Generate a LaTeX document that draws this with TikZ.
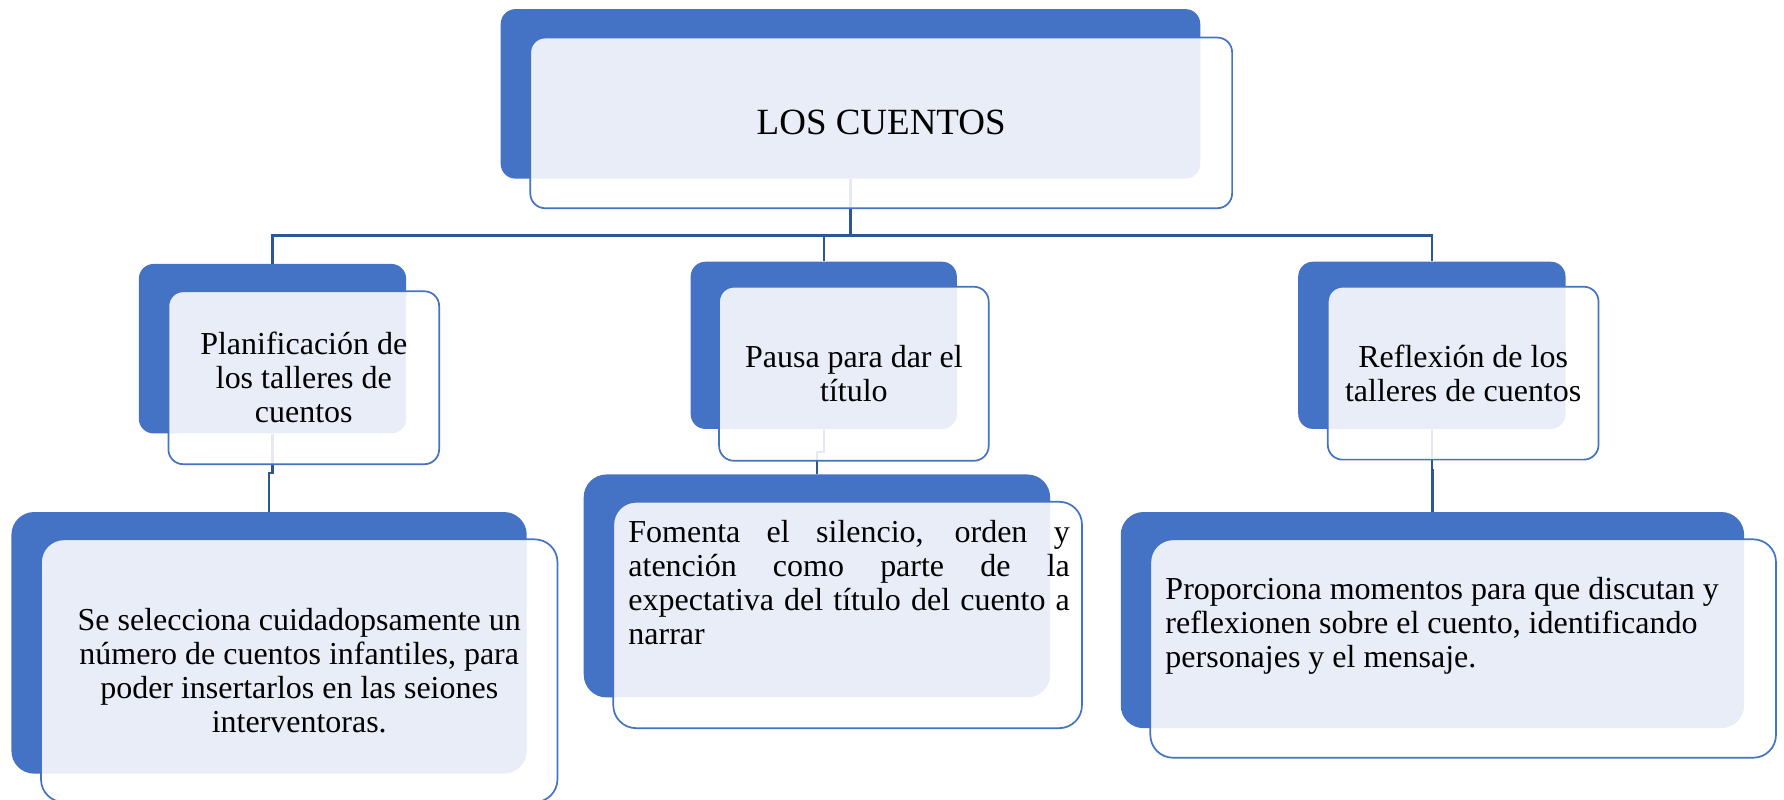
\documentclass[tikz,border=0pt]{standalone}
\usepackage{fontspec}
\setmainfont{Liberation Serif}
\usetikzlibrary{calc,backgrounds}
\definecolor{cuentoblue}{RGB}{68,114,196}
\definecolor{linkblue}{RGB}{47,85,151}

\begin{document}
\begin{tikzpicture}[x=0.02cm,y=-0.02cm,
  back/.style={fill=cuentoblue, rounded corners=0.26cm, inner sep=0pt},
  front/.style={draw=cuentoblue, line width=0.03cm, fill=white, fill opacity=0.88, text opacity=1,
    rounded corners=0.26cm, inner sep=0pt, align=center, font=\fontsize{16}{17}\selectfont},
  big/.style={rounded corners=0.4cm},
  link/.style={draw=linkblue, line width=0.04cm},
  txt/.style={inner sep=0pt, font=\fontsize{16}{17}\selectfont}]
\useasboundingbox (0,0) rectangle (1568,703);

% title
\node[back, minimum width=12.3cm, minimum height=2.98cm] (topback) at (747.5,82.5) {};
\node[front, minimum width=12.34cm, minimum height=3cm, font=\fontsize{18.5}{22}\selectfont] (top) at (774.5,108) {LOS CUENTOS};

% second row
\node[back, minimum width=4.7cm, minimum height=2.98cm] (leftback) at (239.5,306.5) {};
\node[front, minimum width=4.76cm, minimum height=3.04cm] (left) at (267,332) {Planificación de\\ los talleres de\\ cuentos};
\node[back, minimum width=4.68cm, minimum height=2.94cm] (midback) at (724,303.5) {};
\node[front, minimum width=4.74cm, minimum height=3.06cm] (mid) at (750.5,328.5) {Pausa para dar el\\ título};
\node[back, minimum width=4.7cm, minimum height=2.94cm] (rightback) at (1258.5,303.5) {};
\node[front, minimum width=4.76cm, minimum height=3.04cm] (right) at (1286,328) {Reflexión de los\\ talleres de cuentos};

% third row
\node[back, big, minimum width=9.06cm, minimum height=4.6cm] (leftbigback) at (236.5,565) {};
\node[front, big, minimum width=9.08cm, minimum height=4.62cm] (leftbig) at (263,589.5) {Se selecciona cuidadopsamente un\\ número de cuentos infantiles, para\\ poder insertarlos en las seiones\\ interventoras.};
\node[back, big, minimum width=8.2cm, minimum height=3.92cm] (midbigback) at (718,515) {};
\node[front, big, minimum width=8.24cm, minimum height=3.98cm] (midbig) at (745,540.5) {};
\node[txt, text width=7.76cm, align=justify, anchor=north west] (midtext) at (552,457) {\hyphenpenalty=10000 Fomenta el silencio, orden y\linebreak atención como parte de la\linebreak expectativa del título del cuento a\linebreak narrar};
\node[back, big, minimum width=10.96cm, minimum height=3.8cm] (rightbigback) at (1259,545) {};
\node[front, big, minimum width=11cm, minimum height=3.84cm] (rightbig) at (1286,570) {};
\node[txt, align=left, anchor=north west] (righttext) at (1024,507) {Proporciona momentos para que discutan y\\ reflexionen sobre el cuento, identificando\\ personajes y el mensaje.};

% connectors
\begin{scope}[on background layer]
\coordinate (bar) at (0,207);
\draw[link] (topback.south) |- (leftback.north |- bar) -- (leftback.north);
\draw[link] (topback.south) |- (midback.north |- bar) -- (midback.north);
\draw[link] (topback.south) |- (rightback.north |- bar) -- (rightback.north);
\draw[link] (leftback.south) |- ($(leftback.south)!.5!(leftbigback.north)$) -| (leftbigback.north);
\draw[link] (midback.south) |- ($(midback.south)!.5!(midbigback.north)$) -| (midbigback.north);
\draw[link] (rightback.south) |- ($(rightback.south)!.5!(rightbigback.north)$) -| (rightbigback.north);
\end{scope}
\end{tikzpicture}
\end{document}
